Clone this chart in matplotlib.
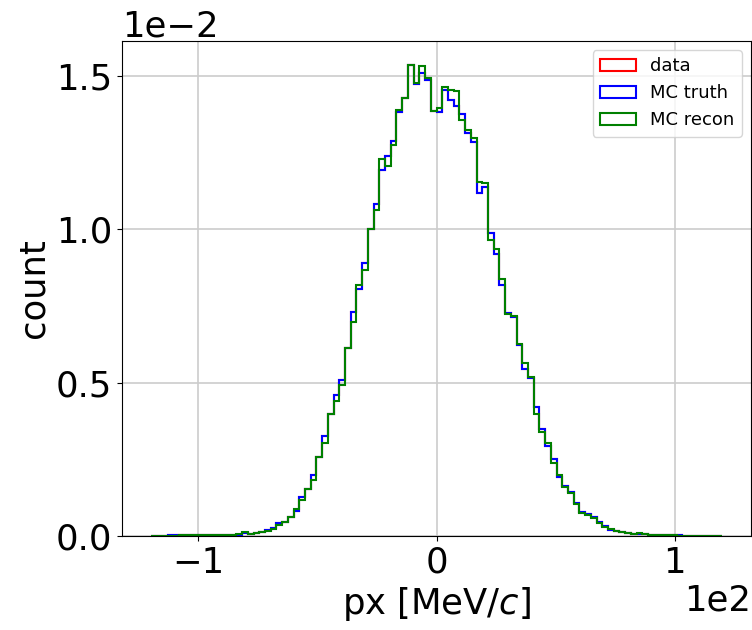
import numpy as np
import matplotlib
matplotlib.use('Agg')
import matplotlib.pyplot as plt

# bin edges: 100 bins from -120 to 120 MeV/c
edges = np.linspace(-120, 120, 101)

# normalised counts (units of 1e-2)
truth = [0.000, 0.001, 0.001, 0.002, 0.002, 0.002, 0.002, 0.002, 0.003, 0.002,
         0.002, 0.003, 0.003, 0.003, 0.003, 0.004, 0.009, 0.007, 0.009, 0.013,
         0.020, 0.025, 0.041, 0.047, 0.063, 0.083, 0.126, 0.153, 0.199, 0.259,
         0.326, 0.398, 0.460, 0.509, 0.612, 0.731, 0.804, 0.891, 1.000, 1.082,
         1.193, 1.237, 1.286, 1.381, 1.427, 1.534, 1.473, 1.509, 1.487, 1.386,
         1.381, 1.454, 1.422, 1.400, 1.375, 1.313, 1.284, 1.116, 1.138, 0.987,
         0.919, 0.818, 0.728, 0.713, 0.623, 0.545, 0.514, 0.421, 0.350, 0.293,
         0.250, 0.193, 0.163, 0.144, 0.106, 0.079, 0.071, 0.061, 0.047, 0.033,
         0.020, 0.017, 0.012, 0.009, 0.007, 0.006, 0.005, 0.004, 0.004, 0.003,
         0.003, 0.002, 0.002, 0.001, 0.001, 0.001, 0.001, 0.000, 0.000, 0.000]

recon = [0.000, 0.000, 0.001, 0.001, 0.001, 0.002, 0.002, 0.002, 0.002, 0.002,
         0.003, 0.004, 0.004, 0.002, 0.003, 0.005, 0.013, 0.007, 0.011, 0.013,
         0.017, 0.022, 0.036, 0.047, 0.061, 0.087, 0.117, 0.152, 0.183, 0.259,
         0.304, 0.398, 0.441, 0.492, 0.612, 0.696, 0.818, 0.867, 1.000, 1.063,
         1.228, 1.205, 1.273, 1.387, 1.427, 1.536, 1.476, 1.530, 1.492, 1.386,
         1.395, 1.462, 1.454, 1.449, 1.356, 1.324, 1.297, 1.152, 1.150, 0.965,
         0.935, 0.837, 0.724, 0.717, 0.626, 0.563, 0.519, 0.398, 0.340, 0.304,
         0.237, 0.199, 0.159, 0.141, 0.104, 0.074, 0.068, 0.058, 0.043, 0.030,
         0.022, 0.016, 0.012, 0.010, 0.007, 0.010, 0.005, 0.004, 0.004, 0.003,
         0.003, 0.002, 0.001, 0.001, 0.001, 0.000, 0.000, 0.000, 0.000, 0.000]

# data histogram is hidden under the MC truth one
data = list(truth)

labels = ['data', 'MC truth', 'MC recon']
colors = ['red', 'blue', 'green']

centers = 0.5 * (edges[:-1] + edges[1:])

fig = plt.figure(figsize=(7.52, 6.3), dpi=100)
ax = fig.add_axes([122 / 752, 94 / 630, 629 / 752, 495 / 630])

for vals, lab, col in zip([data, truth, recon], labels, colors):
    ax.hist(centers, bins=edges, weights=np.array(vals) * 1e-2,
            histtype='step', color=col, linewidth=1.5, label=lab)

ax.grid(True, color='#cccccc', linewidth=1.2)
ax.set_axisbelow(True)
ax.set_xticks([-100, 0, 100])
ax.set_yticks([0, 0.005, 0.010, 0.015])
ax.ticklabel_format(axis='both', style='sci', scilimits=(0, 0))
fs = 25.5
ax.tick_params(labelsize=fs)
ax.xaxis.get_offset_text().set_fontsize(fs)
ax.yaxis.get_offset_text().set_fontsize(fs)
ax.set_xlabel('px [MeV/$c$]', fontsize=fs)
ax.set_ylabel('count', fontsize=fs)
ax.legend(loc='upper right', fontsize=13)

fig.savefig('out.png', dpi=100)
